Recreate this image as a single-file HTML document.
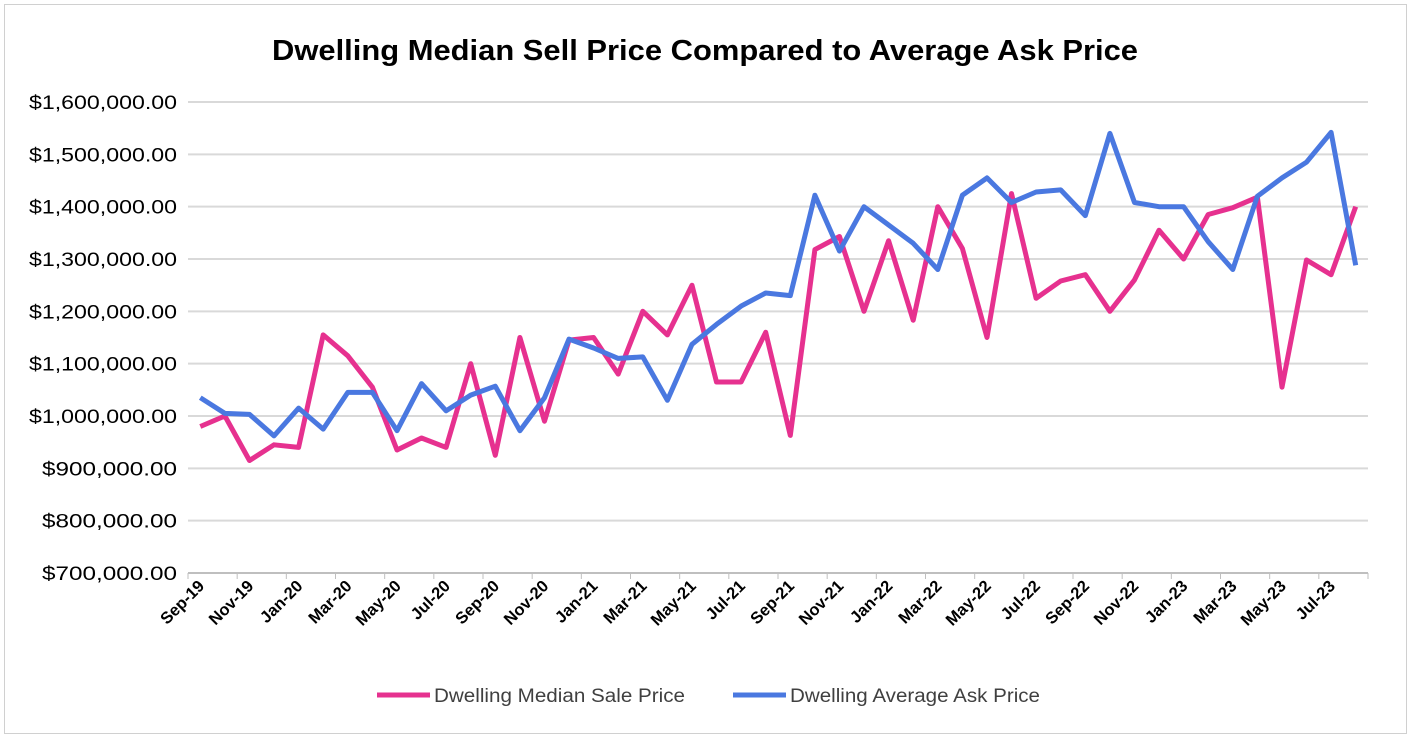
<!DOCTYPE html>
<html><head><meta charset="utf-8"><style>
body{margin:0;background:#fff;font-family:"Liberation Sans",sans-serif;}
svg text{font-family:"Liberation Sans",sans-serif;}
</style></head><body>
<svg id="c" width="1414" height="740" xmlns="http://www.w3.org/2000/svg">
<rect x="4.5" y="4.5" width="1402" height="729" fill="#fff" stroke="#d0d0d0"/>
<text x="272" y="60" textLength="866" lengthAdjust="spacingAndGlyphs" font-size="29" font-weight="bold" fill="#000">Dwelling Median Sell Price Compared to Average Ask Price</text>
<g id="grid"></g><g id="xax"></g><g id="series"></g>
<g>
<line x1="377" y1="695" x2="430" y2="695" stroke="#E6318F" stroke-width="5"/>
<text x="434" y="702" textLength="251" lengthAdjust="spacingAndGlyphs" font-size="19" fill="#404040">Dwelling Median Sale Price</text>
<line x1="733" y1="695" x2="786" y2="695" stroke="#4A78E0" stroke-width="5"/>
<text x="790" y="702" textLength="250" lengthAdjust="spacingAndGlyphs" font-size="19" fill="#404040">Dwelling Average Ask Price</text>
</g>
</svg>
<script>
const months=["Sep-19","Oct-19","Nov-19","Dec-19","Jan-20","Feb-20","Mar-20","Apr-20","May-20","Jun-20","Jul-20","Aug-20","Sep-20","Oct-20","Nov-20","Dec-20","Jan-21","Feb-21","Mar-21","Apr-21","May-21","Jun-21","Jul-21","Aug-21","Sep-21","Oct-21","Nov-21","Dec-21","Jan-22","Feb-22","Mar-22","Apr-22","May-22","Jun-22","Jul-22","Aug-22","Sep-22","Oct-22","Nov-22","Dec-22","Jan-23","Feb-23","Mar-23","Apr-23","May-23","Jun-23","Jul-23","Aug-23"];
const medianSale=[980,1000,915,945,940,1155,1115,1055,935,958,940,1100,925,1150,990,1145,1150,1080,1200,1155,1250,1065,1065,1160,963,1318,1343,1200,1335,1183,1400,1320,1150,1425,1225,1258,1270,1200,1260,1355,1300,1385,1398,1418,1055,1298,1270,1400];
const avgAsk=[1035,1005,1003,962,1015,975,1045,1045,972,1062,1010,1040,1057,972,1035,1147,1130,1110,1113,1030,1137,1175,1210,1235,1230,1422,1315,1400,1365,1330,1280,1422,1455,1408,1428,1432,1383,1540,1408,1400,1400,1333,1280,1420,1455,1485,1542,1288];
const yTicks=[700,800,900,1000,1100,1200,1300,1400,1500,1600];
const NS="http://www.w3.org/2000/svg";
const X0=188,X1=1368,Y0=573,Y1=102;
const step=(X1-X0)/months.length;
const xs=i=>X0+step*(i+0.5);
const ys=v=>Y0-(v-700)/(1600-700)*(Y0-Y1);
function mk(tag,attrs,parent){const e=document.createElementNS(NS,tag);for(const k in attrs)e.setAttribute(k,attrs[k]);parent.appendChild(e);return e;}
const grid=document.getElementById('grid');
yTicks.forEach(v=>{
  const y=ys(v);
  const l=mk('line',{x1:X0,x2:X1,y1:y,y2:y,stroke:v===700?'#bfbfbf':'#d9d9d9','stroke-width':2},grid);
  
  
  const t=mk('text',{x:177,y:y+7,'text-anchor':'end','font-size':19,fill:'#000'},grid);
  t.textContent='$'+(v*1000).toLocaleString('en-US')+'.00';
  const w=v>=1000?148:135;
  t.setAttribute('textLength',w);
  t.setAttribute('lengthAdjust','spacingAndGlyphs');
  
  
});
const xax=document.getElementById('xax');
for(let i=0;i<=months.length;i+=2){
  const x=X0+step*i;
  const tk=mk('line',{x1:x,x2:x,y1:Y0,y2:Y0+6,stroke:'#bfbfbf','stroke-width':1},xax);
  
  
}
months.forEach((m,i)=>{
  if(i%2)return;
  const x=xs(i)+5,y=Y0+14;
  const t=mk('text',{x:x,y:y,'text-anchor':'end','font-size':16.5,'font-weight':'bold',fill:'#000',transform:`rotate(-45 ${x} ${y})`},xax);
  t.textContent=m;
  
  
});
const ser=document.getElementById('series');
function line(data,color,name){
  const p=mk('polyline',{points:data.map((v,i)=>xs(i).toFixed(1)+','+ys(v).toFixed(1)).join(' '),fill:'none',stroke:color,'stroke-width':5,'stroke-linejoin':'round'},ser);
  
  
}
line(medianSale,'#E6318F','median-sale-line');
line(avgAsk,'#4A78E0','average-ask-line');
</script>
</body></html>
